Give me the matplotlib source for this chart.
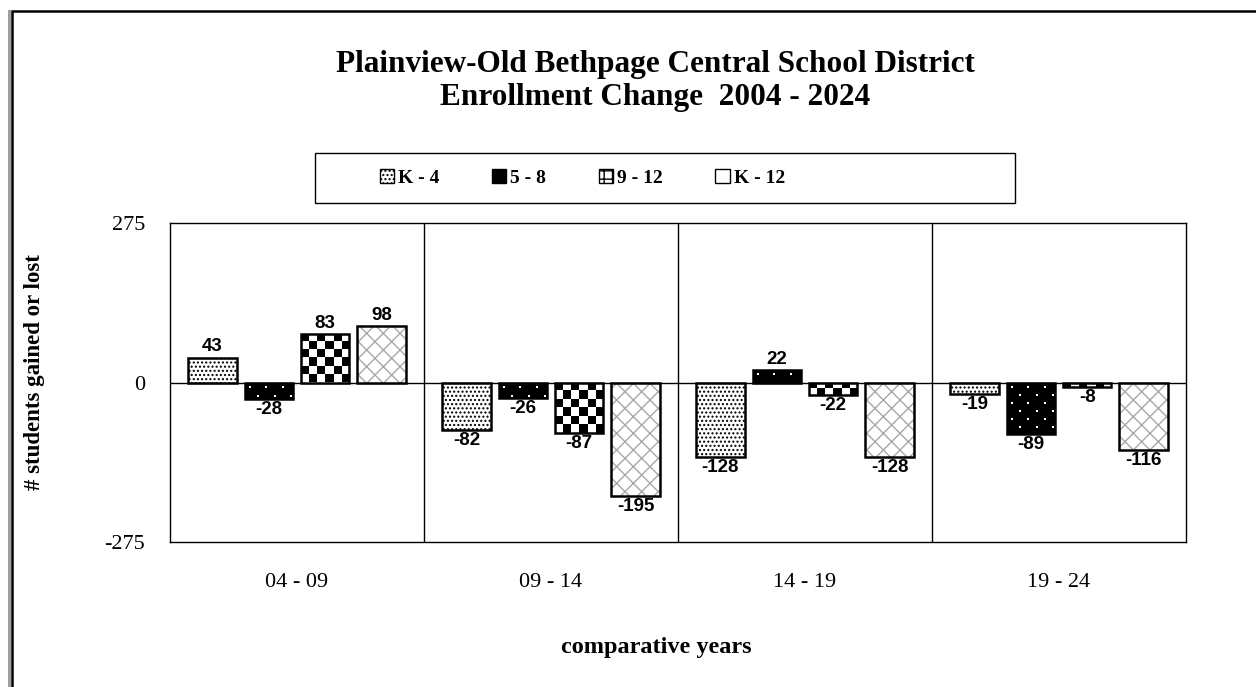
import numpy as np
import matplotlib
matplotlib.use("Agg")
import matplotlib.pyplot as plt
from matplotlib.patches import Rectangle, Patch

categories = ["04 - 09", "09 - 14", "14 - 19", "19 - 24"]
series_names = ["K - 4", "5 - 8", "9 - 12", "K - 12"]
k4 = [43, -82, -128, -19]
g58 = [-28, -26, 22, -89]
g912 = [83, -87, -22, -8]
k12 = [98, -195, -128, -116]
yticks = [-275, 0, 275]

title = "Plainview-Old Bethpage Central School District\nEnrollment Change  2004 - 2024"

serif = ["Liberation Serif", "DejaVu Serif"]
sans = ["Liberation Sans", "DejaVu Sans"]

W, H = 1256, 687
fig = plt.figure(figsize=(W / 100, H / 100), dpi=100)
ax = fig.add_axes([170 / W, 145 / H, 1016 / W, 319 / H])

# outer frame
fig.patches.append(Rectangle((8 / W, 0), 3 / W, 1 - 10 / H, transform=fig.transFigure,
                             facecolor="#a0a0a0", edgecolor="none"))
fig.patches.append(Rectangle((12 / W, -0.05), 1.1, 1.05 - 11 / H, transform=fig.transFigure,
                             facecolor="none", edgecolor="black", linewidth=1.8))

x = np.arange(len(categories))
w = 0.19
step = 0.222
offs = [-1.5 * step, -0.5 * step, 0.5 * step, 1.5 * step]
lw = 1.8
ppu = 319 / 550.0          # pixels per data unit (y)
bw_px = int(round(w * 254))  # bar width in pixels


def clip_image(ax, bar, pat):
    x0 = bar.get_x()
    y0 = bar.get_y()
    h = bar.get_height()
    lo, hi = (y0, y0 + h) if h > 0 else (y0 + h, y0)
    im = ax.imshow(pat, cmap="gray", extent=[x0, x0 + bar.get_width(), lo, hi], aspect="auto",
                   interpolation="nearest", zorder=3, vmin=0, vmax=1, origin="upper")
    im.set_clip_path(bar)


# K-4 : white with dense black dots
ax.bar(x + offs[0], k4, w, facecolor="white", edgecolor="black", hatch="....", linewidth=0, zorder=2)
ax.bar(x + offs[0], k4, w, fill=False, edgecolor="black", linewidth=lw, zorder=4)

# 5-8 : black with sparse white dots
bars58 = ax.bar(x + offs[1], g58, w, facecolor="black", edgecolor="black", linewidth=0, zorder=2)
for b, v in zip(bars58, g58):
    hpx = max(2, int(round(abs(v) * ppu)))
    pat = np.zeros((hpx, bw_px))
    for r in range(4, hpx - 1, 8):
        shift = 4 if (r // 8) % 2 == 0 else 12
        for c in range(shift, bw_px - 1, 16):
            pat[r:r + 2, c:c + 2] = 1
    clip_image(ax, b, pat)
ax.bar(x + offs[1], g58, w, fill=False, edgecolor="black", linewidth=lw, zorder=4)

# 9-12 : checkerboard
bars912 = ax.bar(x + offs[2], g912, w, facecolor="white", edgecolor="black", linewidth=0, zorder=2)
for b, v in zip(bars912, g912):
    hpx = abs(v) * ppu
    nrows = max(1, int(round(hpx / 8.0)))
    pat = (np.add.outer(np.arange(nrows), np.arange(6)) % 2).astype(float)
    clip_image(ax, b, pat)
ax.bar(x + offs[2], g912, w, fill=False, edgecolor="black", linewidth=lw, zorder=4)

# K-12 : grey chain pattern
ax.bar(x + offs[3], k12, w, facecolor="white", edgecolor="#a8a8a8", hatch="xx", linewidth=0, zorder=2)
ax.bar(x + offs[3], k12, w, fill=False, edgecolor="black", linewidth=lw, zorder=4)

# value labels
for vals, off in zip([k4, g58, g912, k12], offs):
    for xi, v in zip(x, vals):
        ax.annotate(f"{v}", (xi + off, v), xytext=(0, 1.5 if v > 0 else -1.5), textcoords="offset points",
                    ha="center", va="bottom" if v > 0 else "top", fontsize=13.5, fontweight="bold",
                    family=sans, zorder=5)

ax.axhline(0, color="black", linewidth=1, zorder=1)
for s in [0.5, 1.5, 2.5]:
    ax.axvline(s, color="black", linewidth=1, zorder=1)

ax.set_xlim(-0.5, 3.5)
ax.set_ylim(-275, 275)
ax.set_yticks(yticks)
ax.set_yticklabels([str(t) for t in yticks], family=serif, fontsize=16)
ax.set_xticks(x)
ax.set_xticklabels(categories, family=serif, fontsize=16)
ax.tick_params(axis="y", length=0, pad=18)
ax.tick_params(axis="x", length=0, pad=22)
for sp in ax.spines.values():
    sp.set_linewidth(1)

fig.text(655 / W, 1 - 81 / H, title, ha="center", va="center", family=serif, fontsize=22.5,
         fontweight="bold", linespacing=1.2)
fig.text(656 / W, 1 - 647 / H, "comparative years", ha="center", va="center", family=serif,
         fontsize=17.5, fontweight="bold")
fig.text(35 / W, 1 - 372 / H, "# students gained or lost", ha="center", va="center", rotation=90,
         family=serif, fontsize=16.5, fontweight="bold")

# legend box
fig.patches.append(Rectangle((315 / W, 1 - 203 / H), 700 / W, 50 / H, transform=fig.transFigure,
                             facecolor="white", edgecolor="black", linewidth=1, zorder=0))
handles = [
    Patch(facecolor="white", edgecolor="black", hatch="...."),
    Patch(facecolor="black", edgecolor="black"),
    Patch(facecolor="white", edgecolor="black", hatch="++"),
    Patch(facecolor="white", edgecolor="black"),
]
leg = fig.legend(handles, series_names, loc="center left", bbox_to_anchor=(364 / W, 1 - 178 / H),
                 ncol=4, frameon=False, handlelength=0.75, handleheight=0.75, handletextpad=0.2,
                 columnspacing=2.7, borderpad=0.3,
                 prop={"family": serif, "weight": "bold", "size": 14})

fig.savefig("out.png", dpi=100)
